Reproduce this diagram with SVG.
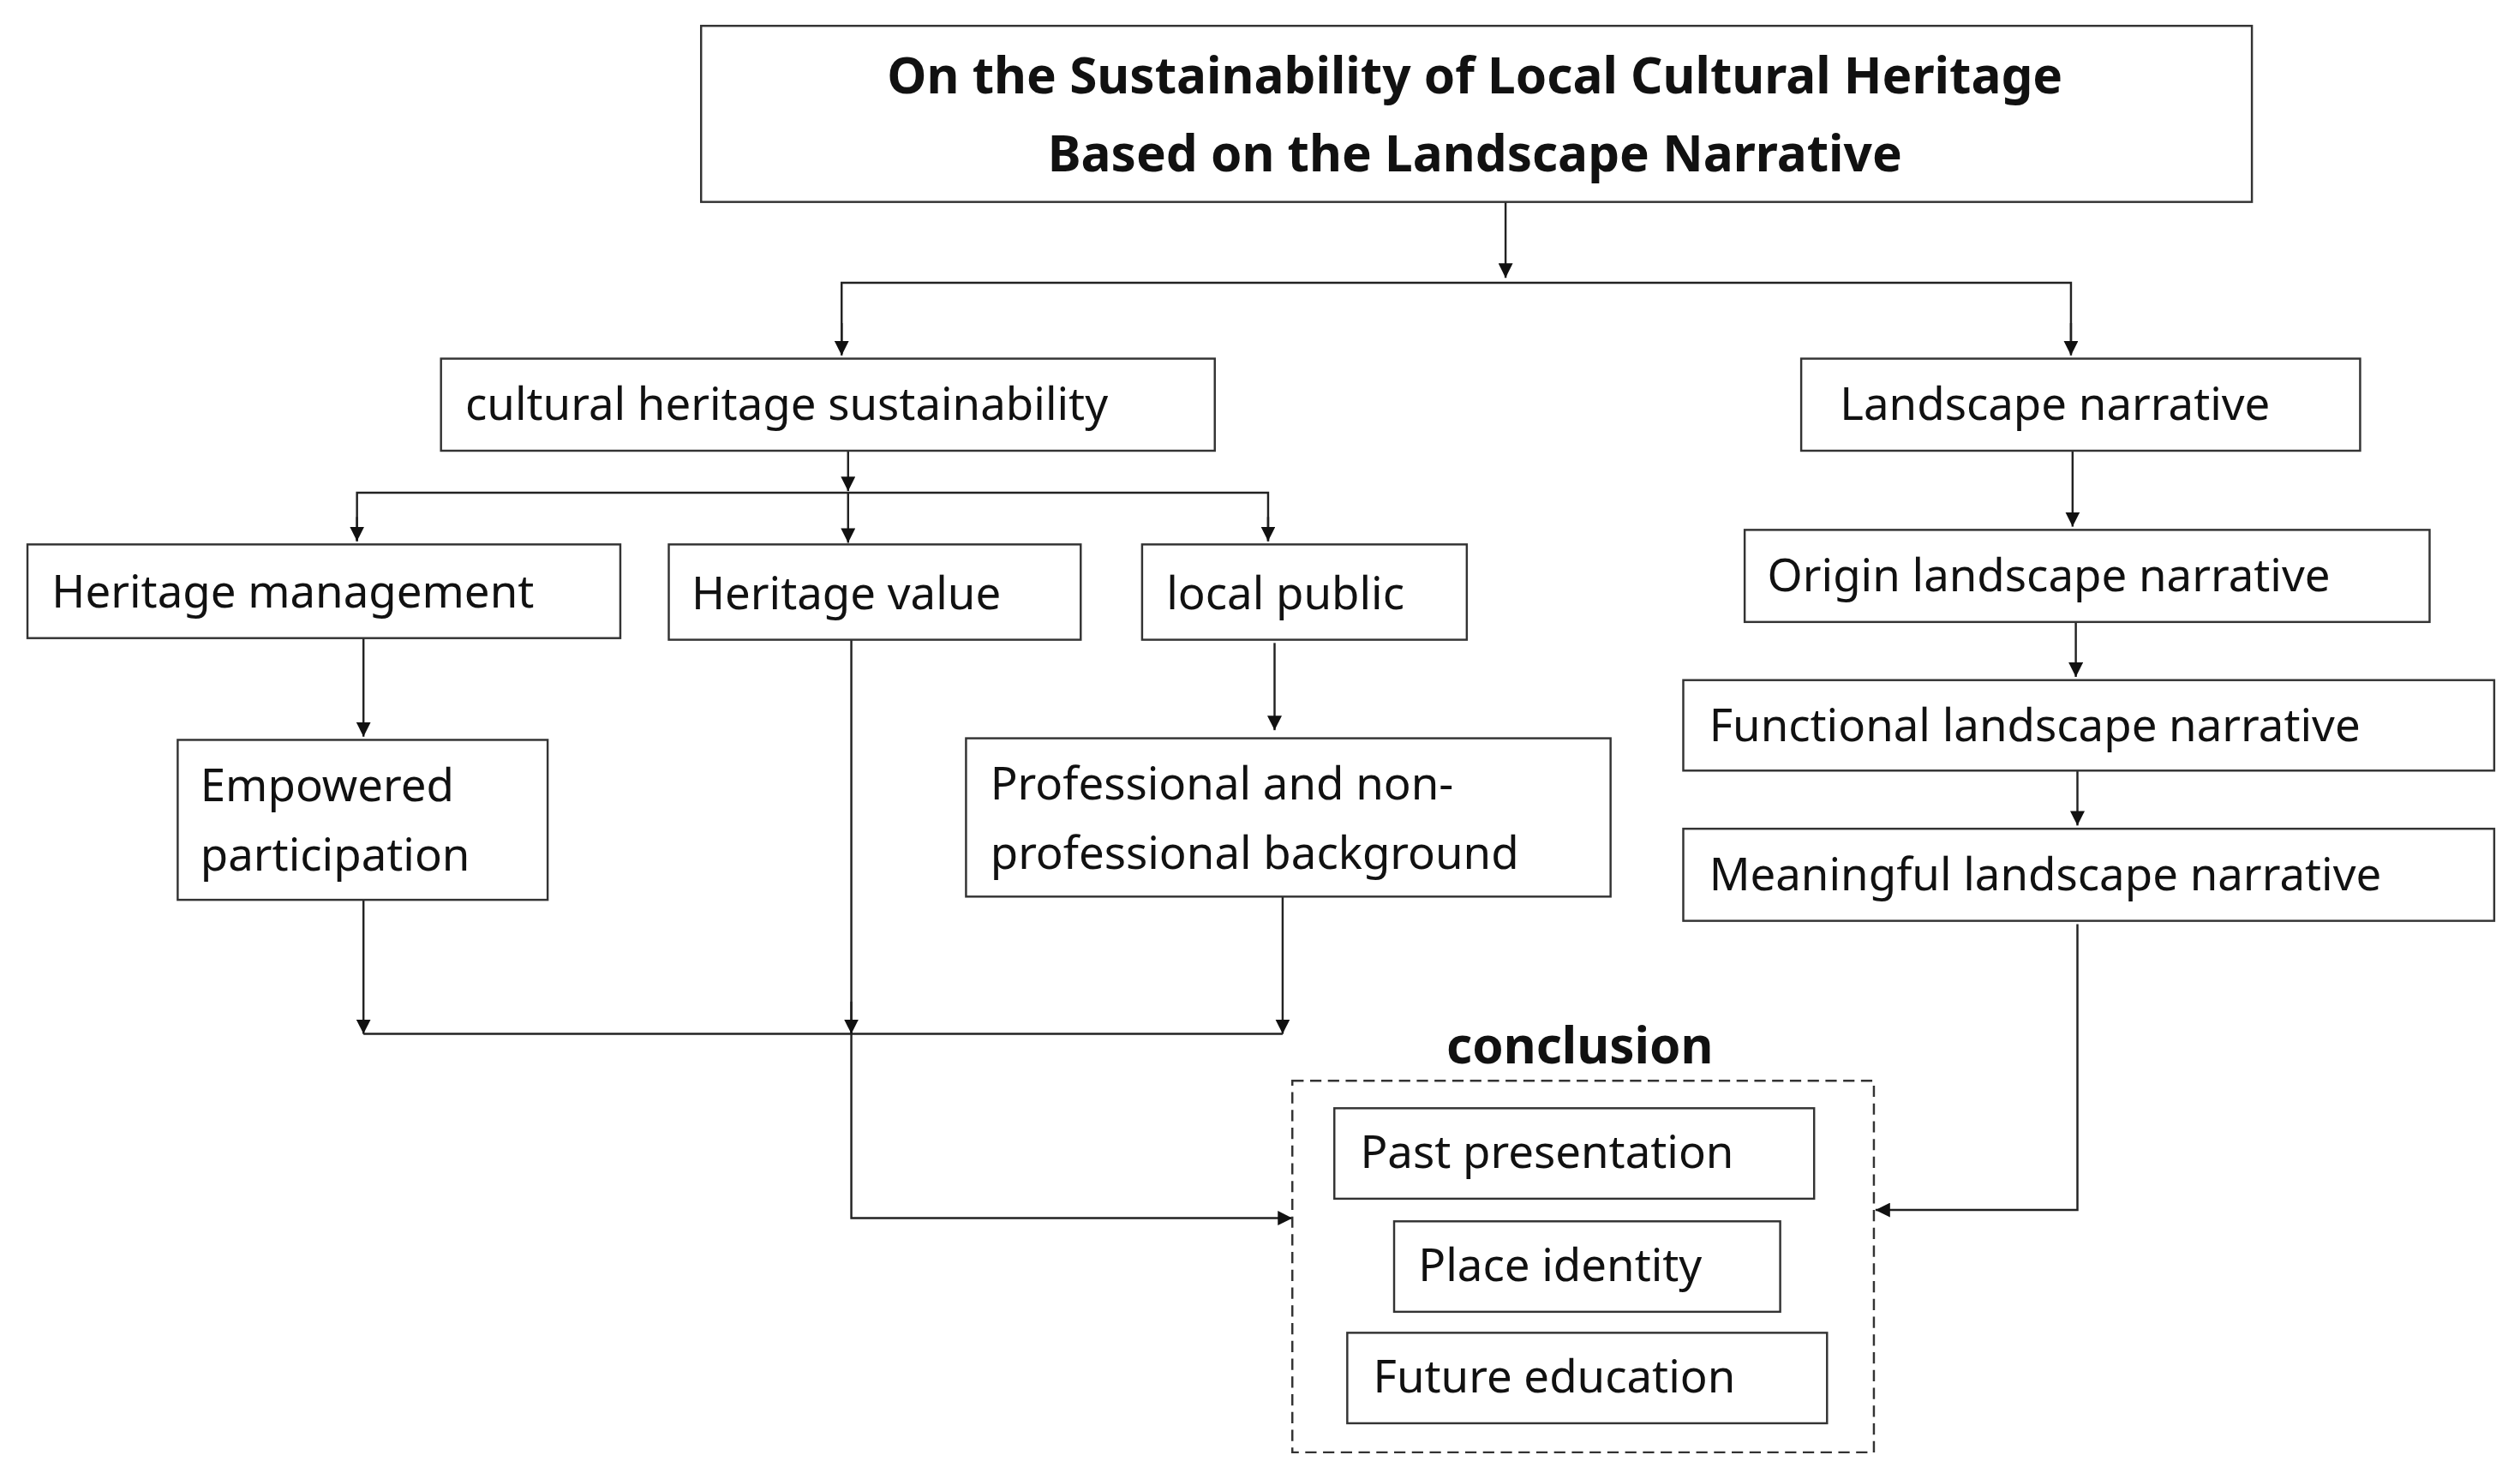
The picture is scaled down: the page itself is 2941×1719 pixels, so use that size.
<svg xmlns="http://www.w3.org/2000/svg" width="2941" height="1719" viewBox="0 0 2941 1719">
<defs>
<style>
.b{fill:#fff;stroke:#333;stroke-width:1.3}
.t{font-family:"Noto Sans","Liberation Sans",sans-serif;font-size:28px;fill:#111}
.h{font-family:"Noto Sans","Liberation Sans",sans-serif;font-size:31px;font-weight:bold;fill:#111;text-anchor:middle}
.c line,.c polyline{stroke:#222;stroke-width:1.3;fill:none}
</style>
<marker id="a" viewBox="0 0 10 10" refX="10" refY="5" markerWidth="9" markerHeight="9" markerUnits="userSpaceOnUse" orient="auto"><path d="M0,0L10,5L0,10z" fill="#111"/></marker>
</defs>
<rect width="2941" height="1719" fill="#fff"/>
<g transform="scale(1.8853)">
<g class="c">
<line x1="932" y1="125" x2="932" y2="172" marker-end="url(#a)"/>
<polyline points="521,219 521,175 1282,175 1282,219" />
<line x1="521" y1="200" x2="521" y2="220" marker-end="url(#a)"/>
<line x1="1282" y1="200" x2="1282" y2="220" marker-end="url(#a)"/>
<line x1="525" y1="279" x2="525" y2="304" marker-end="url(#a)"/>
<polyline points="221,335 221,305 785,305 785,335"/>
<line x1="221" y1="320" x2="221" y2="335" marker-end="url(#a)"/>
<line x1="525" y1="305" x2="525" y2="336" marker-end="url(#a)"/>
<line x1="785" y1="320" x2="785" y2="335" marker-end="url(#a)"/>
<line x1="225" y1="395" x2="225" y2="456" marker-end="url(#a)"/>
<line x1="789" y1="398" x2="789" y2="452" marker-end="url(#a)"/>
<line x1="225" y1="557" x2="225" y2="640" marker-end="url(#a)"/>
<line x1="794" y1="555" x2="794" y2="640" marker-end="url(#a)"/>
<line x1="225" y1="640" x2="794" y2="640"/>
<polyline points="527,396 527,754 800,754" marker-end="url(#a)"/>
<line x1="527" y1="620" x2="527" y2="640" marker-end="url(#a)"/>
<line x1="1283" y1="279" x2="1283" y2="326" marker-end="url(#a)"/>
<line x1="1285" y1="385" x2="1285" y2="419" marker-end="url(#a)"/>
<line x1="1286" y1="477" x2="1286" y2="511" marker-end="url(#a)"/>
<polyline points="1286,572 1286,749 1161,749" marker-end="url(#a)"/>
</g>
<g id="title"><rect class="b" x="434" y="16" width="960" height="109"/><text class="h" x="913" y="58">On the Sustainability of Local Cultural Heritage</text><text class="h" x="913" y="106">Based on the Landscape Narrative</text></g>
<g id="chs"><rect class="b" x="273" y="222" width="479" height="57"/><text class="t" x="288" y="260">cultural heritage sustainability</text></g>
<g id="ln"><rect class="b" x="1115" y="222" width="346" height="57"/><text class="t" x="1139" y="260">Landscape narrative</text></g>
<g id="hm"><rect class="b" x="17" y="337" width="367" height="58"/><text class="t" x="32" y="376">Heritage management</text></g>
<g id="hv"><rect class="b" x="414" y="337" width="255" height="59"/><text class="t" x="428" y="377">Heritage value</text></g>
<g id="lp"><rect class="b" x="707" y="337" width="201" height="59"/><text class="t" x="722" y="377">local public</text></g>
<g id="ep"><rect class="b" x="110" y="458" width="229" height="99"/><text class="t" x="124" y="496">Empowered</text><text class="t" x="124" y="539">participation</text></g>
<g id="pb"><rect class="b" x="598" y="457" width="399" height="98"/><text class="t" x="613" y="495">Professional and non-</text><text class="t" x="613" y="538">professional background</text></g>
<g id="oln"><rect class="b" x="1080" y="328" width="424" height="57"/><text class="t" x="1094" y="366">Origin landscape narrative</text></g>
<g id="fln"><rect class="b" x="1042" y="421" width="502" height="56"/><text class="t" x="1058" y="459">Functional landscape narrative</text></g>
<g id="mln"><rect class="b" x="1042" y="513" width="502" height="57"/><text class="t" x="1058" y="551">Meaningful landscape narrative</text></g>
<g id="conclusion">
<text class="h" x="978" y="658">conclusion</text>
<rect x="800" y="669" width="360" height="230" fill="none" stroke="#333" stroke-width="1.3" stroke-dasharray="7,4"/>
<g id="pp"><rect class="b" x="826" y="686" width="297" height="56"/><text class="t" x="842" y="723">Past presentation</text></g>
<g id="pi"><rect class="b" x="863" y="756" width="239" height="56"/><text class="t" x="878" y="793">Place identity</text></g>
<g id="fe"><rect class="b" x="834" y="825" width="297" height="56"/><text class="t" x="850" y="862">Future education</text></g>
</g>
</g>
</svg>
